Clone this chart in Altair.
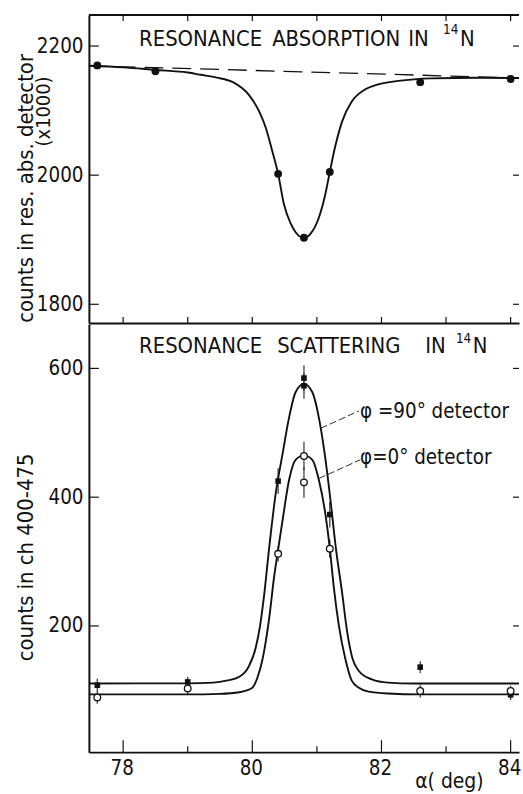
import altair as alt
import pandas as pd

FONT = "DejaVu Sans Condensed, DejaVu Sans"
INK = "#111111"

# ---------------- values ----------------
# Resonance absorption: detector counts (x1000) against alpha (deg)
abs_alpha = [77.6, 78.5, 80.4, 80.8, 81.2, 82.6, 84.0]
abs_counts = [2170, 2161, 2002, 1903, 2005, 2144, 2149]

# fitted absorption curve
abs_fit_alpha = [77.47, 78.0, 78.5, 79.0, 79.2, 79.45, 79.7, 79.95, 80.11, 80.21,
                 80.31, 80.40, 80.49, 80.60, 80.72, 80.80, 80.90, 81.03, 81.13,
                 81.20, 81.29, 81.39, 81.54, 81.75, 81.95, 82.26, 82.77, 83.5, 84.13]
abs_fit_counts = [2169.5, 2167, 2163, 2159, 2155.5, 2151, 2144, 2124, 2098, 2073,
                  2037, 2002, 1955, 1924, 1906, 1902.5, 1909, 1934, 1970,
                  2005, 2047, 2083, 2114, 2133, 2140.5, 2146, 2150, 2151, 2150.5]

# non-resonant background (dashed)
abs_base_alpha = [77.47, 84.13]
abs_base_counts = [2169.5, 2150.5]

# Resonance scattering, phi = 90 deg detector (filled squares)
s90_alpha = [77.6, 79.0, 80.4, 80.8, 80.8, 81.2, 82.6, 84.0]
s90_counts = [108, 113, 425, 585, 573, 373, 136, 93]
s90_err = [10, 8, 20, 20, 20, 20, 9, 8]

# Resonance scattering, phi = 0 deg detector (open circles)
s0_alpha = [77.6, 79.0, 80.4, 80.8, 80.8, 81.2, 82.6, 84.0]
s0_counts = [89, 103, 312, 464, 423, 320, 99, 99]
s0_err = [10, 9, 12, 22, 24, 14, 10, 8]

# fitted scattering curves
s90_fit_alpha = [77.47, 79.0, 79.4, 79.6, 79.8, 79.95, 80.05, 80.12, 80.18, 80.26,
                 80.36, 80.47, 80.57, 80.67, 80.80, 80.93, 81.03, 81.12, 81.21,
                 81.29, 81.39, 81.47, 81.55, 81.65, 81.85, 82.1, 82.5, 84.13]
s90_fit_counts = [110.7, 110.8, 112, 115, 121, 138, 165, 200, 245, 320,
                  404, 468, 524, 563, 576, 563, 524, 468, 396,
                  324, 252, 190, 150, 130, 117, 112, 110.7, 110.7]

s0_fit_alpha = [77.47, 79.0, 79.5, 79.8, 80.0, 80.08, 80.16, 80.26, 80.34, 80.39,
                80.47, 80.57, 80.67, 80.80, 80.93, 81.03, 81.13, 81.20, 81.26,
                81.34, 81.44, 81.54, 81.65, 81.8, 82.1, 82.6, 84.13]
s0_fit_counts = [93.7, 93.7, 94.5, 97, 104, 120, 149, 211, 278, 312,
                 365, 427, 458, 465, 458, 427, 375, 321, 262,
                 201, 149, 115, 104, 98, 95, 93.7, 93.7]

# leader lines from the curves to their labels (alpha, counts) -> (alpha2, counts2)
lead_alpha = [81.06, 81.03]
lead_counts = [507, 429]
lead_alpha2 = [81.65, 81.67]
lead_counts2 = [534, 458]
lead_labels = ["\u03c6 =90\u00b0 detector", "\u03c6=0\u00b0 detector"]

# axes
alpha_domain = [77.47, 84.13]
alpha_all_ticks = [78, 79, 80, 81, 82, 83, 84]
alpha_major = [78, 80, 82, 84]
alpha_minor = [79, 81, 83]
abs_domain = [1771, 2248]
abs_ticks = [1800, 2000, 2200]
sc_domain = [4, 669]
sc_ticks = [200, 400, 600]

W = 433
H_TOP = 310
H_BOT = 431

# ---------------- helpers ----------------
xs = alt.Scale(domain=alpha_domain, nice=False, zero=False)
ys_top = alt.Scale(domain=abs_domain, nice=False, zero=False)
ys_bot = alt.Scale(domain=sc_domain, nice=False, zero=False)


def X(axis):
    return alt.X("alpha:Q", scale=xs, axis=axis, title=None)


def Yt(axis):
    return alt.Y("counts:Q", scale=ys_top, axis=axis, title=None)


def Yb(axis):
    return alt.Y("counts:Q", scale=ys_bot, axis=axis, title=None)


def label(text, x, y, size, angle=0, align="left", baseline="alphabetic"):
    kw = dict(font=FONT, fontSize=size, color=INK, align=align, baseline=baseline)
    if angle:
        kw["angle"] = angle
    return alt.Chart(pd.DataFrame({"t": [text]})).mark_text(**kw).encode(
        text="t:N", x=alt.value(x), y=alt.value(y)
    )


x_ticks_df = pd.DataFrame({"alpha": alpha_all_ticks})
x_major_df = pd.DataFrame({"alpha": alpha_major})
x_minor_df = pd.DataFrame({"alpha": alpha_minor})

# ---------------- top panel: absorption ----------------
top_x_axis = alt.Axis(labels=False, ticks=False, domain=True, grid=False,
                      values=alpha_major)
top_y_axis = alt.Axis(values=abs_ticks, format="d", grid=False, ticks=False,
                      tickSize=0, labelPadding=6)

base_line = alt.Chart(pd.DataFrame({"alpha": abs_base_alpha, "counts": abs_base_counts})).mark_line(
    color=INK, strokeWidth=1.3, strokeDash=[19, 9]
).encode(x=X(top_x_axis), y=Yt(top_y_axis))

fit_top = alt.Chart(pd.DataFrame({"alpha": abs_fit_alpha, "counts": abs_fit_counts})).mark_line(
    color=INK, strokeWidth=1.9, interpolate="monotone"
).encode(x=X(top_x_axis), y=Yt(top_y_axis))

pts_top = alt.Chart(pd.DataFrame({"alpha": abs_alpha, "counts": abs_counts})).mark_circle(
    color=INK, size=62, opacity=1
).encode(x=X(top_x_axis), y=Yt(top_y_axis))

top_border = alt.Chart(pd.DataFrame({"k": [0]})).mark_rule(color=INK, strokeWidth=2).encode(
    x=alt.value(0), x2=alt.value(W), y=alt.value(0)
)
top_xt_up = alt.Chart(x_ticks_df).mark_rule(color=INK, strokeWidth=1.2).encode(
    x=X(top_x_axis), y=alt.value(0), y2=alt.value(6)
)
top_xt_dn = alt.Chart(x_ticks_df).mark_rule(color=INK, strokeWidth=1.2).encode(
    x=X(top_x_axis), y=alt.value(H_TOP - 6), y2=alt.value(H_TOP)
)
yt_df = pd.DataFrame({"counts": abs_ticks})
top_yt_l = alt.Chart(yt_df).mark_rule(color=INK, strokeWidth=1.2).encode(
    y=Yt(top_y_axis), x=alt.value(0), x2=alt.value(10)
)
top_yt_r = alt.Chart(yt_df).mark_rule(color=INK, strokeWidth=1.2).encode(
    y=Yt(top_y_axis), x=alt.value(W - 6), x2=alt.value(W)
)

top = alt.layer(
    base_line, fit_top, pts_top, top_border, top_xt_up, top_xt_dn, top_yt_l, top_yt_r,
    label("RESONANCE", 50.5, 30.8, 22),
    label("ABSORPTION", 184.5, 30.8, 22),
    label("IN", 321.5, 30.8, 22),
    label("14", 356.5, 19.2, 13.5),
    label("N", 373.5, 30.8, 22),
    label("counts in res. abs. detector", -63.5, 174.5, 22, angle=270,
          align="center", baseline="middle"),
    label("(x1000)", -45, 97, 20, angle=270, align="center", baseline="middle"),
).properties(width=W, height=H_TOP)

# ---------------- bottom panel: scattering ----------------
bot_x_axis = alt.Axis(values=alpha_major, format="d", grid=False, ticks=False,
                      tickSize=0, labelPadding=7, labelOffset=-1.5, domain=True)
bot_y_axis = alt.Axis(values=sc_ticks, format="d", grid=False, ticks=False,
                      tickSize=0, labelPadding=6)


def err_df(alpha, counts, err):
    return pd.DataFrame({
        "alpha": alpha,
        "counts": [c - e for c, e in zip(counts, err)],
        "counts_hi": [c + e for c, e in zip(counts, err)],
    })


err90 = alt.Chart(err_df(s90_alpha, s90_counts, s90_err)).mark_rule(
    color="#333333", strokeWidth=1.2
).encode(x=X(bot_x_axis), y=Yb(bot_y_axis), y2="counts_hi:Q")
err0 = alt.Chart(err_df(s0_alpha, s0_counts, s0_err)).mark_rule(
    color="#333333", strokeWidth=1.2
).encode(x=X(bot_x_axis), y=Yb(bot_y_axis), y2="counts_hi:Q")

fit90 = alt.Chart(pd.DataFrame({"alpha": s90_fit_alpha, "counts": s90_fit_counts})).mark_line(
    color=INK, strokeWidth=1.9, interpolate="monotone"
).encode(x=X(bot_x_axis), y=Yb(bot_y_axis))
fit0 = alt.Chart(pd.DataFrame({"alpha": s0_fit_alpha, "counts": s0_fit_counts})).mark_line(
    color=INK, strokeWidth=1.9, interpolate="monotone"
).encode(x=X(bot_x_axis), y=Yb(bot_y_axis))

leaders = alt.Chart(pd.DataFrame({
    "alpha": lead_alpha, "counts": lead_counts,
    "alpha2": lead_alpha2, "counts2": lead_counts2,
})).mark_rule(color=INK, strokeWidth=0.9, strokeDash=[7, 3]).encode(
    x=X(bot_x_axis), y=Yb(bot_y_axis), x2="alpha2:Q", y2="counts2:Q"
)

sq90 = alt.Chart(pd.DataFrame({"alpha": s90_alpha, "counts": s90_counts})).mark_square(
    color=INK, size=32, opacity=1
).encode(x=X(bot_x_axis), y=Yb(bot_y_axis))
ci0 = alt.Chart(pd.DataFrame({"alpha": s0_alpha, "counts": s0_counts})).mark_point(
    shape="circle", filled=True, fill="white", stroke=INK, strokeWidth=1.3, size=45, opacity=1
).encode(x=X(bot_x_axis), y=Yb(bot_y_axis))

bot_xt_major = alt.Chart(x_major_df).mark_rule(color=INK, strokeWidth=1.2).encode(
    x=X(bot_x_axis), y=alt.value(H_BOT - 12), y2=alt.value(H_BOT)
)
bot_xt_minor = alt.Chart(x_minor_df).mark_rule(color=INK, strokeWidth=1.2).encode(
    x=X(bot_x_axis), y=alt.value(H_BOT - 6), y2=alt.value(H_BOT)
)
yb_df = pd.DataFrame({"counts": sc_ticks})
bot_yt_l = alt.Chart(yb_df).mark_rule(color=INK, strokeWidth=1.2).encode(
    y=Yb(bot_y_axis), x=alt.value(0), x2=alt.value(10)
)
bot_yt_r = alt.Chart(yb_df).mark_rule(color=INK, strokeWidth=1.2).encode(
    y=Yb(bot_y_axis), x=alt.value(W - 6), x2=alt.value(W)
)

bottom = alt.layer(
    err90, err0, fit90, fit0, leaders, sq90, ci0,
    bot_xt_major, bot_xt_minor, bot_yt_l, bot_yt_r,
    label("RESONANCE", 50.5, 29.2, 22),
    label("SCATTERING", 189.5, 29.2, 22),
    label("IN", 338.5, 29.2, 22),
    label("14", 369.5, 19.5, 13.5),
    label("N", 386.5, 29.2, 22),
    label(lead_labels[0], 273, 94.2, 20.5),
    label(lead_labels[1], 273, 140.8, 20.5),
    label("counts in ch 400-475", -63.5, 235, 22, angle=270,
          align="center", baseline="middle"),
    label("\u03b1( deg)", 328.5, 467.5, 21),
).properties(width=W, height=H_BOT)

chart = alt.vconcat(top, bottom, spacing=0).resolve_scale(
    y="independent", x="shared"
).properties(
    padding={"left": 14.5, "top": 11.5, "right": 0, "bottom": 0},
    background="white",
).configure_view(
    strokeWidth=0
).configure_axis(
    labelFont=FONT, labelFontSize=20.5, labelColor=INK,
    domainColor=INK, domainWidth=2,
)

chart.save("out.html", embed_options={"renderer": "svg", "actions": False})
